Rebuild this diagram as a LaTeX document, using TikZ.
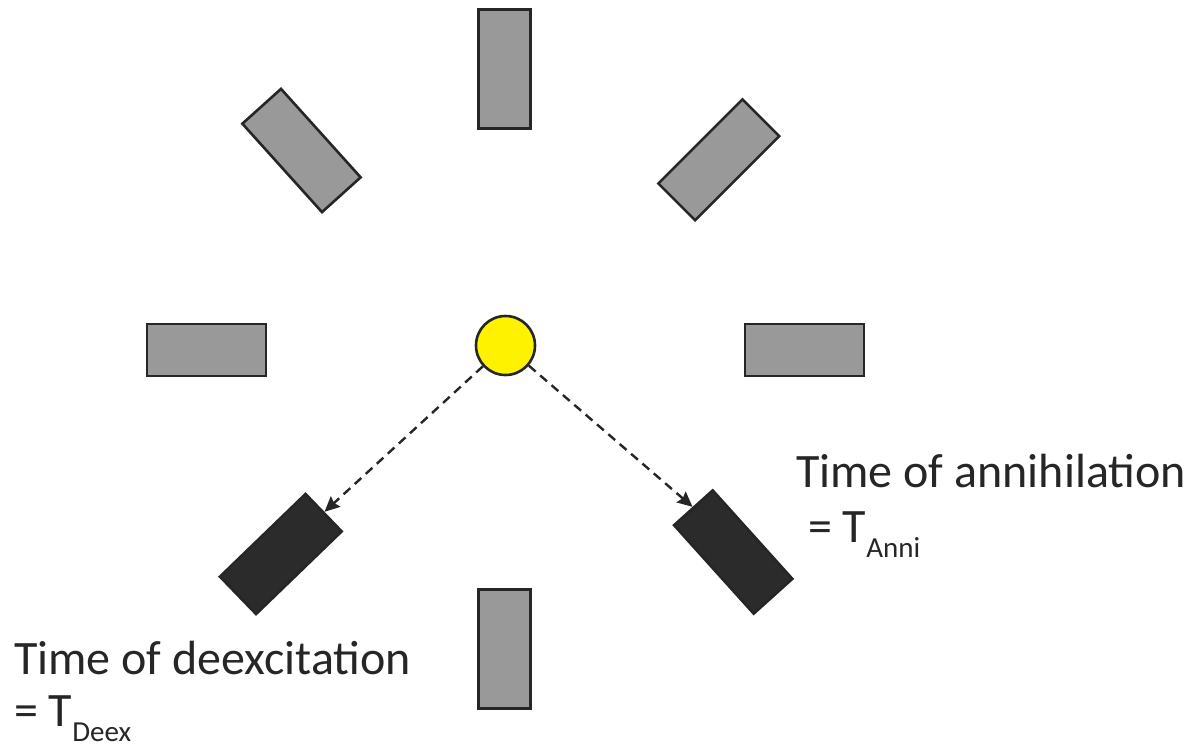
\documentclass[tikz,border=0pt]{standalone}
\usepackage{fontspec}
\setmainfont{Carlito}
\usetikzlibrary{arrows.meta}
\definecolor{edge}{HTML}{262626}
\definecolor{detfill}{HTML}{999999}
\definecolor{hitfill}{HTML}{2B2B2B}
\tikzset{
  detector/.style={draw=edge, fill=detfill, line width=2.6pt, rectangle,
    minimum width=119pt, minimum height=52pt, inner sep=0pt},
  hitdetector/.style={detector, fill=hitfill},
  source/.style={draw=edge, fill=yellow, line width=2.6pt, circle,
    minimum size=59pt, inner sep=0pt},
  photon/.style={draw=edge, line width=2.4pt, dash pattern=on 9pt off 6pt,
    -{Stealth[length=15pt,width=14pt,inset=2pt]}},
  label/.style={anchor=base west, inner sep=0pt, text=edge,
    font=\fontsize{48}{58}\selectfont}
}
\newcommand{\subtext}[1]{\raisebox{-15pt}{\fontsize{29}{29}\selectfont #1}}
\begin{document}
\begin{tikzpicture}[x=1pt, y=-1pt]
  \useasboundingbox (0,0) rectangle (1193,748);

  % ring of detectors around the source
  \node[detector, rotate=90]  (dtop)    at (504.5, 69) {};
  \node[detector, rotate=90]  (dbottom) at (504.5, 649) {};
  \node[detector]             (dleft)   at (206.5, 350) {};
  \node[detector]             (dright)  at (804.5, 350) {};
  \node[detector, rotate=-48] (dtl)     at (301.5, 150.5) {};
  \node[detector, rotate=45]  (dtr)     at (718.8, 159.8) {};
  \node[hitdetector, rotate=44]  (dbl)  at (280.8, 554) {};
  \node[hitdetector, rotate=-48] (dbr)  at (733.2, 552) {};

  % positron source
  \node[source] (src) at (505.5, 345.5) {};

  % emitted gamma quanta
  \draw[photon] (src) -- (dbl.east);
  \draw[photon] (src) -- (dbr.west);

  % timing labels
  \node[label] (annione) at (796, 487) {Time of annihilation};
  \node[label] (annitwo) at (808, 542) {= T\subtext{Anni}};
  \node[label] (deexone) at (14, 674) {Time of deexcitation};
  \node[label] (deextwo) at (14, 726) {= T\subtext{Deex}};
\end{tikzpicture}
\end{document}
